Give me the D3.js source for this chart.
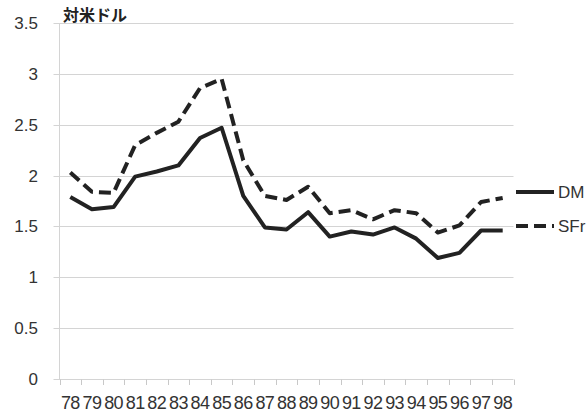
<!DOCTYPE html>
<html>
<head>
<meta charset="utf-8">
<script src="https://cdn.jsdelivr.net/npm/d3@7"></script>
<style>
  html, body { margin: 0; padding: 0; background: #fff; }
  svg { display: block; }
  text { font-family: "Liberation Sans", Arial, sans-serif; fill: #333; }
</style>
</head>
<body>
<svg id="chart" width="588" height="415"></svg>
<script>
// Exchange rates against the US dollar, 1978-1998
const years = ["78","79","80","81","82","83","84","85","86","87","88","89","90","91","92","93","94","95","96","97","98"];
const dmValues = [1.79, 1.67, 1.69, 1.99, 2.04, 2.10, 2.37, 2.47, 1.80, 1.49, 1.47, 1.64, 1.40, 1.45, 1.42, 1.49, 1.38, 1.19, 1.24, 1.46, 1.46];
const sfrValues = [2.03, 1.84, 1.83, 2.30, 2.42, 2.53, 2.86, 2.95, 2.15, 1.80, 1.76, 1.89, 1.63, 1.66, 1.57, 1.66, 1.63, 1.44, 1.51, 1.74, 1.78];
const yTicks = [0, 0.5, 1, 1.5, 2, 2.5, 3, 3.5];
const yTickLabels = ["0", "0.5", "1", "1.5", "2", "2.5", "3", "3.5"];
const seriesNames = ["DM", "SFr"];
const unitLabel = "対米ドル";

const svg = d3.select("#chart");
const plotLeft = 59.5, plotRight = 513.5, plotTop = 23, plotBottom = 379;

const x = d3.scaleBand().domain(years).range([plotLeft, plotRight]).padding(0);
const y = d3.scaleLinear().domain([0, 3.5]).range([plotBottom, plotTop]);
const cx = d => x(d) + x.bandwidth() / 2;

// horizontal gridlines
svg.append("g").selectAll("line").data(yTicks).join("line")
  .attr("x1", plotLeft - 6).attr("x2", plotRight)
  .attr("y1", d => Math.round(y(d)) + 0.5).attr("y2", d => Math.round(y(d)) + 0.5)
  .attr("stroke", "#d4d4d4").attr("stroke-width", 1);

// vertical axis line
svg.append("line")
  .attr("x1", plotLeft).attr("x2", plotLeft)
  .attr("y1", Math.round(y(3.5)) + 0.5).attr("y2", Math.round(y(0)) + 0.5)
  .attr("stroke", "#d4d4d4");

// x tick marks on category boundaries
const boundaries = years.map(d => x(d)).concat([plotRight]);
svg.append("g").selectAll("line").data(boundaries).join("line")
  .attr("x1", d => Math.round(d) + 0.5).attr("x2", d => Math.round(d) + 0.5)
  .attr("y1", Math.round(y(0)) + 0.5).attr("y2", Math.round(y(0)) + 6)
  .attr("stroke", "#c8c8c8");

// y tick labels
svg.append("g").selectAll("text").data(yTicks).join("text")
  .attr("x", 38).attr("y", d => y(d) + 6)
  .attr("text-anchor", "end")
  .style("font-size", "17px")
  .text((d, i) => yTickLabels[i]);

// x tick labels
svg.append("g").selectAll("text").data(years).join("text")
  .attr("x", d => cx(d)).attr("y", 409)
  .attr("text-anchor", "middle")
  .style("font-size", "18px")
  .style("letter-spacing", "-0.6px")
  .text(d => d);

// unit label
svg.append("text")
  .attr("x", 63).attr("y", 21)
  .style("font-family", "'Noto Sans CJK JP', sans-serif")
  .style("font-size", "16px").style("font-weight", "bold")
  .style("fill", "#222")
  .text(unitLabel);

const line = d3.line().x((d, i) => cx(years[i])).y(d => y(d));

svg.append("path").datum(dmValues)
  .attr("d", line)
  .attr("fill", "none").attr("stroke", "#222").attr("stroke-width", 4)
  .attr("stroke-linejoin", "round");

svg.append("path").datum(sfrValues)
  .attr("d", line)
  .attr("fill", "none").attr("stroke", "#222").attr("stroke-width", 4)
  .attr("stroke-dasharray", "12,6")
  .attr("stroke-linejoin", "round");

// legend
const legend = svg.append("g");
const legendRows = [{ name: seriesNames[0], y: 192, dash: null }, { name: seriesNames[1], y: 226, dash: "12,6" }];
legendRows.forEach(r => {
  legend.append("line")
    .attr("x1", 516).attr("x2", 554).attr("y1", r.y).attr("y2", r.y)
    .attr("stroke", "#222").attr("stroke-width", 4)
    .attr("stroke-dasharray", r.dash);
  legend.append("text")
    .attr("x", 558).attr("y", r.y + 6)
    .style("font-size", "17px")
    .text(r.name);
});
</script>
</body>
</html>
